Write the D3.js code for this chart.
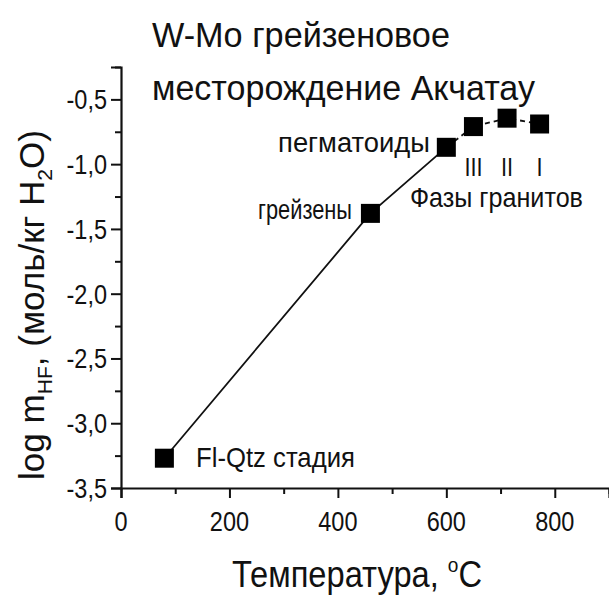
<!DOCTYPE html>
<html>
<head>
<meta charset="utf-8">
<script src="https://cdn.jsdelivr.net/npm/d3@7"></script>
<style>
  body { margin: 0; background: #fff; }
  svg { display: block; }
  text { font-family: "Liberation Sans", Arial, sans-serif; fill: #111; }
</style>
</head>
<body>
<div id="chart"></div>
<script>
// temperature, °C and log m(HF) for each stage
const temps = [80, 460, 600, 650, 712, 772]
const logHF = [-3.27, -1.38, -0.87, -0.71, -0.645, -0.69]
const stageLabels = ["Fl-Qtz стадия", "грейзены", "пегматоиды", "III", "II", "I"]
const phaseTitle = "Фазы гранитов"

const xMajor = [0, 200, 400, 600, 800]
const xMinor = [100, 300, 500, 700, 900]
const yMajor = [-0.5, -1.0, -1.5, -2.0, -2.5, -3.0, -3.5]
const yMinor = [-0.25, -0.75, -1.25, -1.75, -2.25, -2.75, -3.25]

const width = 609, height = 596
const fmt = d => d3.format(".1f")(d).replace(".", ",").replace("−", "-")

const x = d3.scaleLinear().domain([0, 900]).range([121, 609])
const y = d3.scaleLinear().domain([-3.5, -0.25]).range([488, 67])

const svg = d3.select("#chart").append("svg")
  .attr("width", width)
  .attr("height", height)

// draws text at (px,py) and squeezes it horizontally to a given width
function fitText(parent, px, py, size, anchor, w, build) {
  const g = parent.append("g")
  const t = g.append("text").attr("font-size", size).attr("text-anchor", anchor)
  build(t)
  const natural = t.node().getComputedTextLength()
  const sx = w ? w / natural : 0.87
  g.attr("transform", `translate(${px},${py}) scale(${sx},1)`)
  return g
}

// axes
const xAxis = svg.append("g").attr("transform", `translate(0,${y(-3.5)})`)
xAxis.call(d3.axisBottom(x).tickValues(xMajor).tickSize(10).tickFormat(""))
xAxis.append("g").call(d3.axisBottom(x).tickValues(xMinor).tickSize(6).tickFormat(""))
  .select(".domain").remove()

const yAxis = svg.append("g").attr("transform", `translate(${x(0)},0)`)
yAxis.call(d3.axisLeft(y).tickValues(yMajor).tickSize(10).tickFormat(""))
yAxis.append("g").call(d3.axisLeft(y).tickValues(yMinor).tickSize(6).tickFormat(""))
  .select(".domain").remove()

svg.selectAll(".domain").attr("stroke", "#111").attr("stroke-width", 2.2)
svg.selectAll(".tick line").attr("stroke", "#111").attr("stroke-width", 2)

const tickG = svg.append("g")
for (const v of xMajor) {
  fitText(tickG, x(v), y(-3.5) + 43, 27, "middle", null, t => t.text(v))
}
for (const v of yMajor) {
  fitText(tickG, x(0) - 14, y(v) + 10, 27, "end", null, t => t.text(fmt(v)))
}

// line: solid to pegmatoids, dashed between granite phases
const pts = temps.map((t, i) => [x(t), y(logHF[i])])
const line = d3.line()
svg.append("path").attr("d", line(pts.slice(0, 3)))
  .attr("fill", "none").attr("stroke", "#111").attr("stroke-width", 1.8)
svg.append("path").attr("d", line(pts.slice(2)))
  .attr("fill", "none").attr("stroke", "#111").attr("stroke-width", 1.8)
  .attr("stroke-dasharray", "5,4").attr("stroke-dashoffset", -1)

const sq = 19
svg.append("g").selectAll("rect")
  .data(pts)
  .join("rect")
    .attr("x", d => d[0] - sq / 2)
    .attr("y", d => d[1] - sq / 2)
    .attr("width", sq)
    .attr("height", sq)
    .attr("fill", "#000")

// stage labels
const lab = svg.append("g")
fitText(lab, 196, 467, 27, "start", 159, t => t.text(stageLabels[0]))
fitText(lab, 352, 219, 27, "end", 94, t => t.text(stageLabels[1]))
fitText(lab, 430, 152, 27, "end", 152, t => t.text(stageLabels[2]))
for (let i = 3; i < 6; i++) {
  fitText(lab, pts[i][0], 176, 25, "middle", null, t => t.text(stageLabels[i]))
}
fitText(lab, 410, 207, 27, "start", 173, t => t.text(phaseTitle))

// title
fitText(svg, 152, 47, 35, "start", 298, t => t.text("W-Mo грейзеновое"))
fitText(svg, 152, 100, 35, "start", 383, t => t.text("месторождение Акчатау"))

// x axis title
fitText(svg, 232, 587, 36, "start", 250, t => {
  t.append("tspan").text("Температура,  ")
  t.append("tspan").attr("font-size", 21).attr("dy", -15).text("o")
  t.append("tspan").attr("dy", 15).text("C")
})

// y axis title
const yt = svg.append("g").attr("transform", "translate(44,305) rotate(-90)")
fitText(yt, 0, 0, 35, "middle", 350, t => {
  t.append("tspan").text("log m")
  t.append("tspan").attr("font-size", 21).attr("dy", 8).text("HF")
  t.append("tspan").attr("dy", -8).text(",  (моль/кг H")
  t.append("tspan").attr("font-size", 21).attr("dy", 8).text("2")
  t.append("tspan").attr("dy", -8).text("O)")
})
</script>
</body>
</html>
